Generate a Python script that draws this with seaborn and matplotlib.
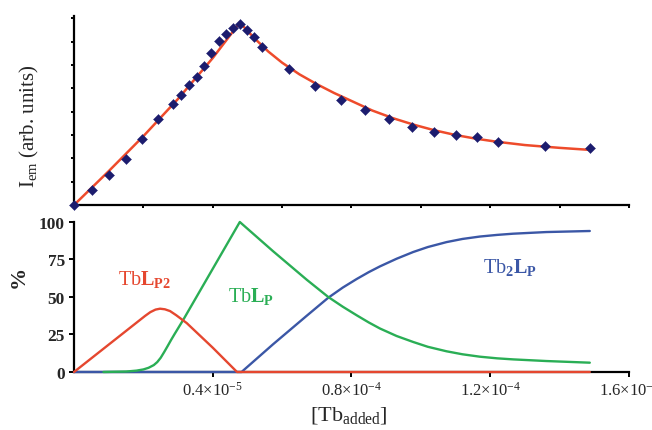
import matplotlib
matplotlib.use("Agg")
import matplotlib.pyplot as plt
import seaborn as sns
import pandas as pd

# ---- Top panel: emission intensity (arb. units) vs [Tb added] (x in units of 1e-4) ----
pts_x = [0.0, 0.053, 0.100, 0.149, 0.196, 0.242, 0.286, 0.309, 0.331, 0.354, 0.375,
         0.395, 0.417, 0.438, 0.459, 0.478, 0.499, 0.520, 0.541, 0.620, 0.695,
         0.769, 0.839, 0.908, 0.975, 1.038, 1.101, 1.161, 1.221, 1.359, 1.488]
pts_y = [0.0, 0.65, 1.29, 1.97, 2.82, 3.69, 4.34, 4.71, 5.16, 5.48, 5.97,
         6.50, 7.02, 7.31, 7.57, 7.74, 7.52, 7.20, 6.78, 5.84, 5.09,
         4.50, 4.07, 3.67, 3.36, 3.11, 3.02, 2.91, 2.72, 2.51, 2.44]
fit_x = [0.0, 0.10, 0.20, 0.30, 0.40, 0.478, 0.52, 0.56, 0.60, 0.65, 0.70, 0.75,
         0.80, 0.86, 0.92, 0.98, 1.04, 1.10, 1.16, 1.22, 1.30, 1.40, 1.49]
fit_y = [0.0, 1.45, 2.95, 4.55, 6.30, 7.82, 7.15, 6.58, 6.10, 5.60, 5.18, 4.80,
         4.46, 4.05, 3.72, 3.44, 3.20, 3.00, 2.84, 2.71, 2.57, 2.45, 2.36]

# ---- Bottom panel: species distribution (%) ----
red_x = [0.0, 0.205, 0.220, 0.235, 0.248, 0.262, 0.277, 0.295, 0.325, 0.400, 0.470, 1.487]
red_y = [0.0, 37.4, 39.9, 41.6, 42.2, 41.8, 40.6, 37.8, 32.6, 16.2, 0.0, 0.0]
green_x = [0.085, 0.15, 0.18, 0.20, 0.215, 0.23, 0.24, 0.25, 0.26, 0.27, 0.28, 0.29,
           0.30, 0.315, 0.373, 0.43, 0.478, 0.574, 0.671, 0.733, 0.775, 0.815,
           0.85, 0.882, 0.93, 0.978, 1.02, 1.074, 1.12, 1.170, 1.22, 1.266,
           1.362, 1.487]
green_y = [0.0, 0.3, 0.9, 1.7, 2.8, 4.6, 6.6, 9.5, 13.3, 17.3, 21.4, 25.3,
           29.1, 34.8, 58.0, 80.8, 100.0, 80.5, 61.5, 50.0, 43.5, 37.8,
           33.0, 29.0, 24.0, 20.0, 16.8, 13.8, 11.8, 10.2, 9.1, 8.4,
           7.3, 6.2]
blue_x = [0.0, 0.483, 0.574, 0.671, 0.733, 0.775, 0.815, 0.85, 0.882, 0.93, 0.978,
          1.02, 1.074, 1.12, 1.170, 1.22, 1.266, 1.362, 1.487]
blue_y = [0.0, 0.0, 18.5, 37.5, 49.5, 56.3, 62.0, 66.6, 70.4, 75.5, 80.0,
          83.3, 86.6, 88.7, 90.3, 91.4, 92.2, 93.3, 94.0]

top_xticks = [0.0, 0.2, 0.4, 0.6, 0.8, 1.0, 1.2, 1.4, 1.6]
top_yticks = [0, 1, 2, 3, 4, 5, 6, 7, 8]
bot_xticks = [0.4, 0.8, 1.2, 1.6]
bot_xticklabels = [r"0.4×10$^{-5}$", r"0.8×10$^{-4}$", r"1.2×10$^{-4}$", r"1.6×10$^{-5}$"]
bot_yticks = [0, 25, 50, 75, 100]

sns.set_style("ticks")
plt.rcParams['font.family'] = ['Liberation Serif', 'DejaVu Serif']
plt.rcParams['mathtext.fontset'] = 'custom'
plt.rcParams['mathtext.rm'] = 'Liberation Serif'
plt.rcParams['mathtext.it'] = 'Liberation Serif:italic'
plt.rcParams['mathtext.bf'] = 'Liberation Serif:bold'

fig = plt.figure(figsize=(6.52, 4.31), dpi=100)
fig.patch.set_facecolor('white')
ax1 = fig.add_axes([0.1135, 0.522, 0.8512, 0.4385])
ax2 = fig.add_axes([0.1135, 0.1346, 0.8512, 0.348])

RED_FIT = "#ee4b2b"
NAVY = "#1c1c6e"
RED = "#e5472f"
GREEN = "#2aae55"
BLUE = "#3b57a6"

# top
df_fit = pd.DataFrame({"x": fit_x, "y": fit_y})
df_pts = pd.DataFrame({"x": pts_x, "y": pts_y})
sns.lineplot(data=df_fit, x="x", y="y", ax=ax1, color=RED_FIT, linewidth=1.8,
             sort=False, estimator=None, zorder=2)
sns.scatterplot(data=df_pts, x="x", y="y", ax=ax1, marker="D", s=26, color=NAVY,
                edgecolor=NAVY, linewidth=0.3, zorder=3, clip_on=False)
ax1.set_xlim(0, 1.6)
ax1.set_ylim(0, 8.1)
ax1.set_xticks(top_xticks)
ax1.set_yticks(top_yticks)
ax1.set_xticklabels([])
ax1.set_yticklabels([])
ax1.set_xlabel("")
ax1.set_ylabel("")
for s in ["top", "right"]:
    ax1.spines[s].set_visible(False)
for s in ["left", "bottom"]:
    ax1.spines[s].set_linewidth(1.6)
    ax1.spines[s].set_color("black")
ax1.tick_params(axis="both", direction="out", length=2.5, width=1.4, color="black")

# bottom
for xs, ys, col in [(blue_x, blue_y, BLUE), (green_x, green_y, GREEN), (red_x, red_y, RED)]:
    d = pd.DataFrame({"x": xs, "y": ys})
    sns.lineplot(data=d, x="x", y="y", ax=ax2, color=col, linewidth=1.7, sort=False,
                 estimator=None, zorder=3, clip_on=False)
ax2.set_xlim(0, 1.6)
ax2.set_ylim(0, 100)
ax2.set_xticks(bot_xticks)
ax2.set_xticklabels(bot_xticklabels, fontsize=12)
ax2.set_yticks(bot_yticks)
ax2.set_yticklabels([str(v) for v in bot_yticks], fontsize=12.5, fontweight="bold")
ax2.set_xlabel("")
ax2.set_ylabel("")
for s in ["top", "right"]:
    ax2.spines[s].set_visible(False)
for s in ["left", "bottom"]:
    ax2.spines[s].set_linewidth(1.6)
    ax2.spines[s].set_color("black")
ax2.tick_params(axis="both", direction="out", length=3.5, width=1.4, color="black", pad=3)

ax2.text(0.202, 62, r"Tb$\mathbf{L}_{\mathbf{P2}}$", color=RED, fontsize=14.5,
         ha="center", va="center")
ax2.text(0.51, 51, r"Tb$\mathbf{L}_{\mathbf{P}}$", color=GREEN, fontsize=14.5,
         ha="center", va="center")
ax2.text(1.256, 70.5, r"Tb$_{\mathbf{2}}\mathbf{L}_{\mathbf{P}}$", color=BLUE, fontsize=14.5,
         ha="center", va="center")

fig.text(0.0445, 0.708, r"I$_{\mathrm{em}}$ (arb. units)", rotation=90, fontsize=15,
         ha="center", va="center")
fig.text(0.029, 0.357, "%", rotation=90, fontsize=16, fontweight="bold",
         ha="center", va="center")
fig.text(0.535, 0.037, r"[Tb$_{\mathrm{added}}$]", fontsize=16, ha="center", va="center")

fig.savefig("out.png", dpi=100, facecolor="white")
